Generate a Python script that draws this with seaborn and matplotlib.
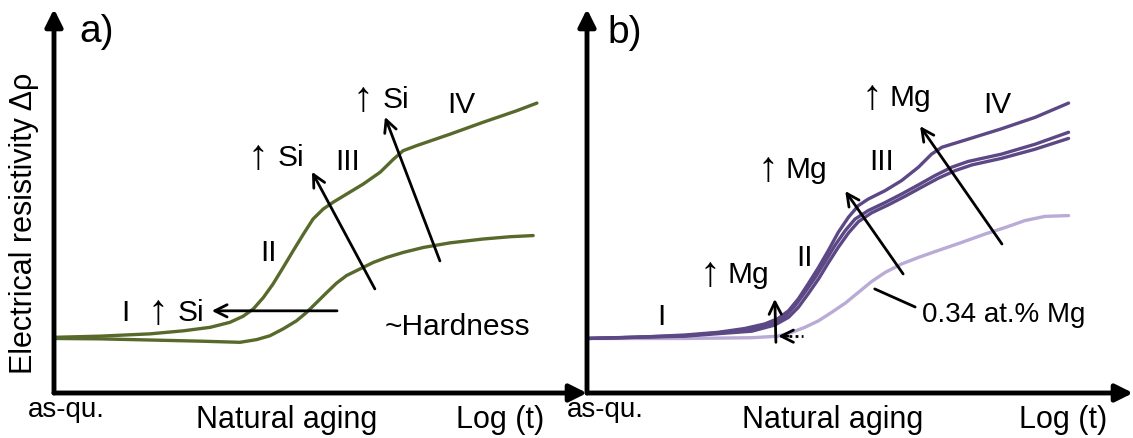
import matplotlib
matplotlib.use("Agg")
import matplotlib.pyplot as plt
import numpy as np
import pandas as pd
import seaborn as sns

# ---------------- data (arbitrary units: x = log time 0-100, y = delta rho 0-100) ----------------
# Panel a (Si variation)
a_hi_x = [0, 8.6, 18.0, 24.3, 29.3, 33.0, 35.5, 37.4, 39.3, 41.1, 43.0, 44.9, 46.8, 48.6, 50.5, 52.4,
          54.9, 58.0, 61.2, 63.7, 65.5, 68.0, 74.3, 80.5, 86.8, 90.6]
a_hi_y = [14.5, 14.8, 15.4, 16.2, 17.1, 18.4, 20.0, 21.9, 24.9, 28.4, 32.7, 37.1, 41.4, 45.3, 47.9, 49.7,
          51.8, 54.4, 57.5, 60.9, 63.1, 64.4, 67.4, 70.5, 73.5, 75.5]
a_lo_x = [0, 8.6, 18.0, 27.4, 34.9, 38.0, 40.5, 43.0, 45.5, 47.4, 49.3, 51.2, 53.0, 54.9, 57.4, 59.9,
          62.4, 65.5, 69.3, 74.3, 80.5, 85.6, 89.9]
a_lo_y = [14.2, 14.1, 13.8, 13.5, 13.2, 13.9, 14.9, 16.7, 18.8, 21.0, 23.6, 26.2, 28.6, 30.6, 32.3, 34.0,
          35.3, 36.6, 37.9, 39.1, 40.1, 40.7, 41.0]

# Panel b (Mg variation)
b_top_x = [0, 8.8, 17.9, 24.0, 28.9, 32.6, 35.0, 36.9, 38.7, 40.5, 42.4, 44.2, 46.0, 47.9, 49.7, 51.5,
           54.6, 57.6, 60.7, 63.1, 65.0, 69.8, 75.9, 82.1, 88.2]
b_top_y = [14.2, 14.5, 15.1, 15.8, 16.8, 18.0, 19.4, 21.4, 24.5, 28.4, 32.7, 37.1, 41.8, 45.8, 48.8, 50.5,
           52.7, 55.3, 58.8, 62.2, 64.0, 66.1, 68.8, 71.8, 75.5]
b_mid1_x = [0, 17.9, 30.2, 33.8, 36.3, 38.1, 39.9, 41.8, 43.6, 45.4, 47.3, 49.1, 51.5, 54.6, 57.6, 60.7,
            63.7, 66.8, 69.8, 75.9, 82.1, 88.2]
b_mid1_y = [14.2, 14.9, 16.5, 18.0, 20.0, 22.7, 26.2, 30.1, 34.2, 38.4, 42.3, 45.3, 47.5, 49.6, 51.8, 54.2,
            56.6, 58.8, 60.3, 62.2, 64.8, 67.9]
b_mid2_x = [0, 17.9, 30.2, 34.4, 36.9, 38.7, 40.5, 42.4, 44.2, 46.0, 47.9, 49.7, 52.1, 55.2, 58.2, 61.3,
            64.3, 67.4, 70.5, 75.9, 82.1, 88.2]
b_mid2_y = [14.2, 14.8, 16.1, 17.7, 19.7, 22.3, 25.8, 29.7, 33.9, 37.9, 41.7, 44.6, 46.9, 49.0, 51.2, 53.6,
            55.9, 57.9, 59.4, 61.1, 63.5, 66.3]
b_low_x = [0, 17.9, 30.2, 35.0, 37.5, 39.9, 42.4, 44.8, 47.3, 49.7, 52.1, 54.6, 57.6, 60.7, 64.3, 68.6,
           72.9, 76.6, 80.2, 83.9, 88.2]
b_low_y = [14.2, 14.2, 14.4, 14.8, 15.8, 17.1, 18.8, 21.0, 23.4, 26.2, 29.0, 31.4, 33.6, 35.3, 37.1, 39.2,
           41.4, 43.1, 44.9, 46.0, 46.2]

a_labels = ["I", "II", "III", "IV", "~Hardness"]
a_elements = ["Si", "Si", "Si"]
b_labels = ["I", "II", "III", "IV"]
b_elements = ["Mg", "Mg", "Mg"]
b_note = "0.34 at.% Mg"

GREEN = "#58692c"
DARK = "#5d4886"
LIGHT = "#baaad6"

sns.set_style("white")
plt.rcParams["font.family"] = ["Liberation Sans", "DejaVu Sans"]
plt.rcParams["text.color"] = "black"

W, H = 1133, 439
fig = plt.figure(figsize=(W / 100, H / 100), dpi=100)
ax_a = fig.add_axes([54 / W, (H - 394) / H, (587 - 54) / W, (394 - 10) / H])
ax_b = fig.add_axes([587 / W, (H - 394) / H, (1133 - 587) / W, (394 - 10) / H])

df_a = pd.concat([
    pd.DataFrame({"t": a_hi_x, "rho": a_hi_y, "alloy": "high Si"}),
    pd.DataFrame({"t": a_lo_x, "rho": a_lo_y, "alloy": "low Si"}),
])
df_b = pd.concat([
    pd.DataFrame({"t": b_low_x, "rho": b_low_y, "alloy": "0.34 Mg"}),
    pd.DataFrame({"t": b_mid2_x, "rho": b_mid2_y, "alloy": "mid2"}),
    pd.DataFrame({"t": b_mid1_x, "rho": b_mid1_y, "alloy": "mid1"}),
    pd.DataFrame({"t": b_top_x, "rho": b_top_y, "alloy": "top"}),
])

sns.lineplot(data=df_a, x="t", y="rho", hue="alloy", palette=[GREEN, GREEN],
             linewidth=2.4, legend=False, ax=ax_a, estimator=None, sort=False)
sns.lineplot(data=df_b, x="t", y="rho", hue="alloy", palette=[LIGHT, DARK, DARK, DARK],
             linewidth=2.4, legend=False, ax=ax_b, estimator=None, sort=False)
for ax in (ax_a, ax_b):
    for ln in ax.get_lines():
        ln.set_solid_joinstyle("round")
        ln.set_solid_capstyle("round")

for ax in (ax_a, ax_b):
    ax.set_xlim(0, 100)
    ax.set_ylim(0, 100)
    ax.axis("off")
    ax.annotate("", xy=(0, 1), xytext=(0, 0), xycoords="axes fraction",
                arrowprops=dict(arrowstyle="-|>", lw=3.5, color="black",
                                mutation_scale=26, shrinkA=0, shrinkB=0),
                annotation_clip=False)
    ax.annotate("", xy=(1, 0), xytext=(0, 0), xycoords="axes fraction",
                arrowprops=dict(arrowstyle="-|>", lw=3.5, color="black",
                                mutation_scale=26, shrinkA=0, shrinkB=0),
                annotation_clip=False)

arr = dict(arrowstyle="->", lw=2.0, color="black", mutation_scale=22, shrinkA=0, shrinkB=0)

# panel a arrows
ax_a.annotate("", xy=(29.6, 21.4), xytext=(53.1, 21.4), arrowprops=arr)
ax_a.annotate("", xy=(48.4, 57.6), xytext=(60.2, 27.1), arrowprops=arr)
ax_a.annotate("", xy=(62.1, 71.9), xytext=(72.4, 34.4), arrowprops=arr)

# panel b arrows
ax_b.annotate("", xy=(34.4, 24.5), xytext=(34.6, 13.2), arrowprops=arr)
ax_b.annotate("", xy=(35.0, 14.8), xytext=(36.8, 14.8), arrowprops=arr)
ax_b.plot([37.0, 39.6], [14.8, 14.8], color="black", lw=2.0, linestyle=(0, (1, 1.2)))
ax_b.annotate("", xy=(47.3, 52.6), xytext=(57.9, 31.0), arrowprops=arr)
ax_b.annotate("", xy=(61.0, 69.5), xytext=(76.0, 38.8), arrowprops=arr)
ax_b.plot([52.7, 60.1], [27.1, 22.4], color="black", lw=2.0)

FS = 21.5
# roman numerals / notes
a_pos = [(13.3, 21.1), (40.2, 36.7), (55.0, 60.4), (76.5, 75.3), (75.6, 17.4)]
for s, (x, y) in zip(a_labels, a_pos):
    ax_a.text(x, y, s, fontsize=FS, ha="center", va="center")
b_pos = [(13.6, 20.1), (39.9, 35.4), (54.0, 60.4), (75.1, 75.3)]
for s, (x, y) in zip(b_labels, b_pos):
    ax_b.text(x, y, s, fontsize=FS, ha="center", va="center")
ax_b.text(61.4, 20.6, b_note, fontsize=20, ha="left", va="center")

# "↑ element" labels: arrow glyph drawn taller, as in the reference
a_up = [(19.5, 21.1), (38.3, 61.5), (58.0, 76.6)]
for s, (x, y) in zip(a_elements, a_up):
    ax_a.text(x, y, "\u2191", fontsize=30, ha="center", va="center")
    ax_a.text(x + 3.6, y, s, fontsize=FS, ha="left", va="center")
b_up = [(22.5, 31.0), (33.1, 58.3), (52.1, 77.1)]
for s, (x, y) in zip(b_elements, b_up):
    ax_b.text(x, y, "\u2191", fontsize=30, ha="center", va="center")
    ax_b.text(x + 3.3, y, s, fontsize=FS, ha="left", va="center")

# panel letters
fig.text(97 / W, 1 - 32 / H, "a)", fontsize=28, ha="center", va="center")
fig.text(625 / W, 1 - 33 / H, "b)", fontsize=28, ha="center", va="center")

# axis texts
for cx in (66, 605):
    fig.text(cx / W, 1 - 417 / H, "as-qu.", fontsize=20, ha="center", va="baseline")
for cx in (287, 833):
    fig.text(cx / W, 1 - 428 / H, "Natural aging", fontsize=22, ha="center", va="baseline")
for cx in (500, 1063):
    fig.text(cx / W, 1 - 428 / H, "Log (t)", fontsize=22, ha="center", va="baseline")

fig.text(24 / W, 1 - 223 / H, "Electrical resistivity \u0394\u03c1", fontsize=22,
         rotation=90, ha="center", va="center")

fig.savefig("out.png", dpi=100)
